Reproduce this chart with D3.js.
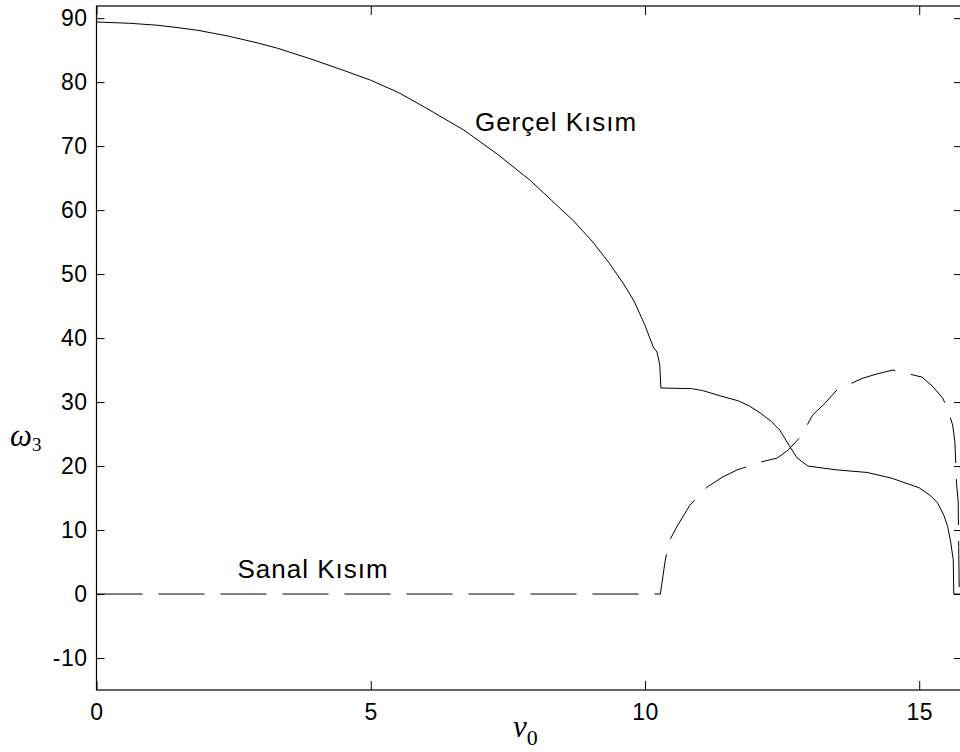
<!DOCTYPE html>
<html>
<head>
<meta charset="utf-8">
<script src="https://cdn.jsdelivr.net/npm/d3@7"></script>
<style>
body{margin:0;background:#fff;}
svg{display:block;}
.axis text{font-family:"Liberation Sans",Arial,sans-serif;font-size:23px;letter-spacing:0.5px;fill:#000;}
.axis line{stroke:#000;stroke-width:1;}
.axis path{display:none;}
.lbl{font-family:"Liberation Sans",Arial,sans-serif;font-size:26px;letter-spacing:1px;fill:#000;}
</style>
</head>
<body>
<div id="chart"></div>
<script>
// real part (solid)
var realV = [0, 0.6, 1.1, 1.5, 1.85, 2.4, 2.95, 3.3, 3.95, 4.55, 5.0, 5.5, 6.0, 6.7, 7.3, 7.9, 8.3, 8.7, 9.05, 9.35, 9.6, 9.8, 10.0, 10.15, 10.22, 10.27, 10.29, 10.85, 11.05, 11.4, 11.7, 11.9, 12.1, 12.3, 12.46, 12.6, 12.77, 12.97, 13.5, 14.05, 14.5, 15.0, 15.2, 15.33, 15.45, 15.52, 15.57, 15.62, 15.63, 15.8];
var realW = [89.4, 89.2, 88.9, 88.5, 88.1, 87.2, 86.1, 85.3, 83.5, 81.7, 80.3, 78.4, 76.0, 72.5, 68.8, 64.7, 61.5, 58.3, 55.0, 51.7, 48.6, 45.8, 42.0, 38.6, 37.8, 35.8, 32.2, 32.1, 31.8, 30.9, 30.2, 29.4, 28.3, 27.0, 25.6, 23.6, 21.3, 20.0, 19.4, 19.0, 18.1, 16.6, 15.4, 14.3, 12.3, 10.5, 8.3, 5.4, 0, 0];

// imaginary part (dashed)
var imagV = [0, 10.28, 10.37, 10.45, 10.58, 10.82, 11.13, 11.42, 11.68, 12.1, 12.41, 12.61, 12.83, 13.06, 13.28, 13.5, 13.96, 14.23, 14.52, 15.05, 15.25, 15.43, 15.52, 15.61, 15.65, 15.68, 15.71, 15.72, 15.73, 15.8];
var imagW = [0, 0, 5.3, 8.4, 10.5, 13.9, 16.7, 18.3, 19.4, 20.6, 21.25, 22.5, 24.5, 28.0, 29.8, 31.9, 33.7, 34.4, 35.0, 33.9, 32.4, 30.6, 28.8, 26.4, 23.8, 17.3, 14.5, 7.3, 0, 0];

var xTicks = [0, 5, 10, 15];
var yTicks = [-10, 0, 10, 20, 30, 40, 50, 60, 70, 80, 90];

var w = 960, h = 752;
var padL = 96.5, padR = 962, padT = 6, padB = 690;

var svg = d3.select("#chart").append("svg")
    .attr("width", w)
    .attr("height", h);

var xScale = d3.scaleLinear().domain([0, 15.78]).range([padL, padR]);
var yScale = d3.scaleLinear().domain([-15, 91.9]).range([padB, padT]);

svg.append("clipPath").attr("id", "clip")
    .append("rect")
    .attr("x", padL).attr("y", padT)
    .attr("width", padR - padL).attr("height", padB - padT);

var line = d3.line()
    .x(function(d){ return xScale(d[0]); })
    .y(function(d){ return yScale(d[1]); });

var realData = realV.map(function(v, i){ return [v, realW[i]]; });
var imagData = imagV.map(function(v, i){ return [v, imagW[i]]; });

var g = svg.append("g").attr("clip-path", "url(#clip)");

g.append("path")
    .datum(imagData)
    .attr("d", line)
    .style("fill", "none")
    .style("stroke", "#000")
    .style("stroke-width", 1)
    .style("stroke-dasharray", "46,16");

g.append("path")
    .datum(realData)
    .attr("d", line)
    .style("fill", "none")
    .style("stroke", "#000")
    .style("stroke-width", 1);

// plain hyphen for negatives, like the original
var fmt = function(d){ return String(d); };

// axes, ticks pointing inward
svg.append("g")
    .attr("class", "axis")
    .attr("transform", "translate(0," + padB + ")")
    .call(d3.axisBottom(xScale).tickValues(xTicks).tickSize(-9).tickPadding(14).tickFormat(fmt));

svg.append("g")
    .attr("class", "axis")
    .attr("transform", "translate(0," + padT + ")")
    .call(d3.axisTop(xScale).tickValues(xTicks).tickSize(-9).tickFormat(""));

svg.append("g")
    .attr("class", "axis")
    .attr("transform", "translate(" + padL + ",0)")
    .call(d3.axisLeft(yScale).tickValues(yTicks).tickSize(-8).tickPadding(9).tickFormat(fmt));

svg.append("g")
    .attr("class", "axis")
    .attr("transform", "translate(" + padR + ",0)")
    .call(d3.axisRight(yScale).tickValues(yTicks).tickSize(-8).tickFormat(""));

// box
svg.append("rect")
    .attr("x", padL).attr("y", padT)
    .attr("width", padR - padL).attr("height", padB - padT)
    .style("fill", "none")
    .style("stroke", "#000")
    .style("stroke-width", 1.2);

// labels
svg.append("text")
    .attr("class", "lbl")
    .attr("x", xScale(6.9))
    .attr("y", yScale(72.4))
    .text("Gerçel Kısım");

svg.append("text")
    .attr("class", "lbl")
    .attr("x", xScale(2.57))
    .attr("y", yScale(2.5))
    .text("Sanal Kısım");

var xl = svg.append("text")
    .attr("x", 513)
    .attr("y", 737)
    .style("font-family", "Liberation Serif, Times New Roman, serif")
    .style("font-size", "31px");
xl.append("tspan").style("font-style", "italic").text("v");
xl.append("tspan").attr("dy", 8).style("font-size", "22px").text("0");

var yl = svg.append("text")
    .attr("x", 10)
    .attr("y", 446)
    .style("font-family", "Liberation Serif, Times New Roman, serif")
    .style("font-size", "31px");
yl.append("tspan").style("font-style", "italic").text("ω");
yl.append("tspan").attr("dy", 5).style("font-size", "19px").text("3");
</script>
</body>
</html>
